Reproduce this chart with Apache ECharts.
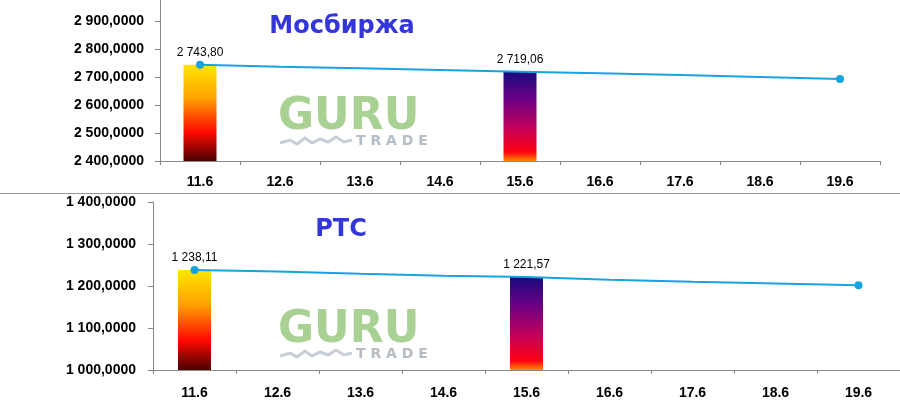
<!DOCTYPE html>
<html><head><meta charset="utf-8">
<script src="https://cdn.jsdelivr.net/npm/echarts@6/dist/echarts.min.js"></script>
<style>html,body{margin:0;padding:0;background:#fff}#c{width:900px;height:400px}</style>
</head><body><div id="c"></div>
<script>
const categories = ['11.6','12.6','13.6','14.6','15.6','16.6','17.6','18.6','19.6'];
const moexLine = [2743.80, 2737, 2731, 2725, 2719.06, 2713, 2707, 2700, 2693];
const moexBars = [2743.80, null, null, null, 2719.06, null, null, null, null];
const rtsLine = [1238.11, 1234.5, 1229, 1224.5, 1221.57, 1215, 1210, 1206, 1202];
const rtsBars = [1238.11, null, null, null, 1221.57, null, null, null, null];
const moexTicks = [2400, 2500, 2600, 2700, 2800, 2900];
const rtsTicks = [1000, 1100, 1200, 1300, 1400];

function fmt(v, d) {
  const s = v.toFixed(d).split('.');
  const int = s[0].replace(/\B(?=(\d{3})+(?!\d))/g, ' ');
  return d ? int + ',' + s[1] : int;
}
const warm = {type:'linear',x:0,y:0,x2:0,y2:1,colorStops:[
  {offset:0,color:'#ffe600'},{offset:0.35,color:'#ffa000'},{offset:0.7,color:'#ff0a00'},{offset:1,color:'#4a0000'}]};
const cool = {type:'linear',x:0,y:0,x2:0,y2:1,colorStops:[
  {offset:0,color:'#180a7c'},{offset:0.3,color:'#6a0085'},{offset:0.62,color:'#c0005c'},{offset:0.9,color:'#ff0012'},{offset:1,color:'#ff8a00'}]};
const barColors = [warm, null, null, null, cool, null, null, null, null];

function lineData(arr) {
  return arr.map((v, i) => ({value: v, symbolSize: (i === 0 || i === arr.length - 1) ? 8 : 0}));
}
function barData(arr) {
  return arr.map((v, i) => v == null ? null : ({value: v, itemStyle: {color: barColors[i]}}));
}
const axisFont = {fontFamily: 'Liberation Sans', fontWeight: 'bold', fontSize: 14, color: '#000'};

function xAxis(gi, margin) {
  return {type:'category', gridIndex: gi, data: categories, boundaryGap: true,
    axisLine:{lineStyle:{color:'#888',width:1}}, axisTick:{show:true,length:4,lineStyle:{color:'#888'}},
    axisLabel: Object.assign({margin: margin}, axisFont)};
}
function yAxis(gi, min, max, ticks, margin) {
  return {type:'value', gridIndex: gi, min: min, max: max, interval: 100,
    splitLine:{show:false},
    axisLine:{show:true,lineStyle:{color:'#888'}}, axisTick:{show:true,length:5,lineStyle:{color:'#888'}},
    axisLabel: Object.assign({margin: margin, showMaxLabel: ticks.indexOf(max) >= 0,
      formatter: v => ticks.indexOf(v) >= 0 ? fmt(v, 4) : ''}, axisFont)};
}
function barSeries(gi, arr) {
  return {type:'bar', xAxisIndex: gi, yAxisIndex: gi, data: barData(arr), barWidth: 33, z: 1,
    label:{show:true, position:'top', distance:6, fontFamily:'Liberation Sans', fontSize:12, color:'#000',
      formatter: p => fmt(p.value, 2)}};
}
function lineSeries(gi, arr) {
  return {type:'line', xAxisIndex: gi, yAxisIndex: gi, data: lineData(arr), symbol:'circle',
    showSymbol: true, z: 3, lineStyle:{color:'#17a2e2', width:2}, itemStyle:{color:'#17a2e2'}};
}
function logo(top) {
  return [
    {type:'text', left: 278, top: top, z: 0, style:{text:'GURU', fill:'#a9d193', font:'bold 44px "DejaVu Sans"'}},
    {type:'text', left: 356, top: top + 38, z: 0, style:{text:'T R A D E', fill:'#b5bcc4', font:'bold 14px "DejaVu Sans"'}},
    {type:'polyline', z: 0, shape:{points:[[280,top+47],[290,top+44],[297,top+48],[305,top+42],[312,top+47],[320,top+43],[328,top+46],[336,top+41],[344,top+46],[352,top+44]]},
      style:{stroke:'#c8ced6', lineWidth:3, fill:null}}
  ];
}

const chart = echarts.init(document.getElementById('c'), null, {renderer:'canvas'});
chart.setOption({
  animation: false,
  backgroundColor: '#fff',
  title: [
    {text:'Мосбиржа', left: 337, top: 10, textAlign:'center', textStyle:{fontFamily:'DejaVu Sans', fontWeight:'bold', fontSize:24, color:'#3535dc'}},
    {text:'РТС', left: 336, top: 213, textAlign:'center', textStyle:{fontFamily:'DejaVu Sans', fontWeight:'bold', fontSize:24, color:'#3535dc'}}
  ],
  grid: [
    {left: 160, width: 720, top: 0, height: 161},
    {left: 153, width: 756, top: 202, height: 168}
  ],
  xAxis: [xAxis(0, 14), xAxis(1, 16)],
  yAxis: [yAxis(0, 2400, 2975, moexTicks, 16), yAxis(1, 1000, 1400, rtsTicks, 17)],
  graphic: [
    {type:'line', shape:{x1:0, y1:193.5, x2:900, y2:193.5}, style:{stroke:'#999', lineWidth:1}, z: 0}
  ].concat(logo(96), logo(309)),
  series: [barSeries(0, moexBars), lineSeries(0, moexLine), barSeries(1, rtsBars), lineSeries(1, rtsLine)]
});
</script></body></html>
